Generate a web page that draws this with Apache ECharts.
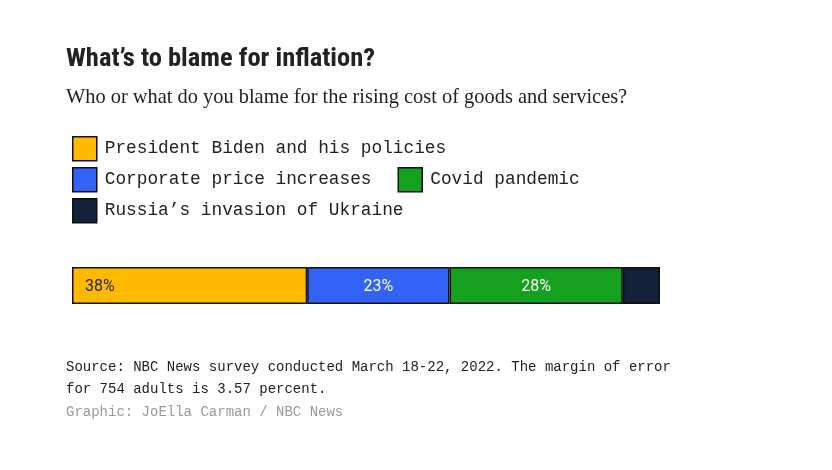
<!DOCTYPE html>
<html><head><meta charset="utf-8">
<script src="https://cdn.jsdelivr.net/npm/echarts@6/dist/echarts.min.js"></script>
<style>html,body{margin:0;padding:0;background:#fff;}#c{width:832px;height:470px;}</style>
</head><body><div id="c"></div>
<script>
const categories = ['Blame'];
const seriesNames = ['President Biden and his policies', 'Corporate price increases', 'Covid pandemic', 'Russia\u2019s invasion of Ukraine'];
const seriesValues = [38, 23, 28, 6];
const seriesColors = ['#FFBA00', '#3263F6', '#15A020', '#13213A'];
const labelColors = ['#222', '#fff', '#fff', '#fff'];

const chart = echarts.init(document.getElementById('c'));
const total = seriesValues.reduce((a, b) => a + b, 0);
const mono = '"Liberation Mono", "DejaVu Sans Mono", monospace';
const legendBase = {
  left: 67, itemWidth: 24, itemHeight: 24, itemGap: 26, orient: 'horizontal',
  icon: 'rect', selectedMode: false,
  textStyle: { fontFamily: mono, fontSize: 17.8, color: '#222', padding: [0, 0, 0, 3] },
  itemStyle: { borderColor: '#111', borderWidth: 1.5 }
};
chart.setOption({
  animation: false,
  title: [
    { text: 'What\u2019s to blame for inflation?', left: 61, top: 41,
      textStyle: { fontFamily: '"Liberation Sans Narrow", "Roboto Condensed", Roboto, sans-serif', fontWeight: 'bold', fontSize: 26.5, color: '#222' } },
    { text: 'Who or what do you blame for the rising cost of goods and services?', left: 61, top: 83,
      textStyle: { fontFamily: '"Liberation Serif", serif', fontWeight: 'normal', fontSize: 20.4, color: '#222' } },
    { text: 'Source: NBC News survey conducted March 18-22, 2022. The margin of error\nfor 754 adults is 3.57 percent.', left: 61, top: 351,
      textStyle: { fontFamily: mono, fontWeight: 'normal', fontSize: 14, color: '#222', lineHeight: 22 } },
    { text: 'Graphic: JoElla Carman / NBC News', left: 61, top: 400,
      textStyle: { fontFamily: mono, fontWeight: 'normal', fontSize: 14, color: '#999' } }
  ],
  legend: [
    Object.assign({}, legendBase, { top: 131, data: [seriesNames[0]] }),
    Object.assign({}, legendBase, { top: 162, data: [seriesNames[1], seriesNames[2]] }),
    Object.assign({}, legendBase, { top: 193, data: [seriesNames[3]] })
  ],
  grid: { left: 72, right: 172, top: 267, height: 37 },
  xAxis: { type: 'value', min: 0, max: total, show: false },
  yAxis: { type: 'category', data: categories, show: false },
  series: seriesNames.map((name, i) => ({
    name, type: 'bar', stack: 'all', barWidth: '100%',
    data: [seriesValues[i]],
    itemStyle: { color: seriesColors[i], borderColor: '#111', borderWidth: 1.5 },
    label: {
      show: seriesValues[i] >= 10,
      position: i === 0 ? 'insideLeft' : 'inside',
      distance: 13,
      offset: [0, 1],
      formatter: '{c}%',
      color: labelColors[i],
      fontFamily: 'Roboto, "Noto Sans", sans-serif',
      fontSize: 16
    }
  }))
});
</script></body></html>
